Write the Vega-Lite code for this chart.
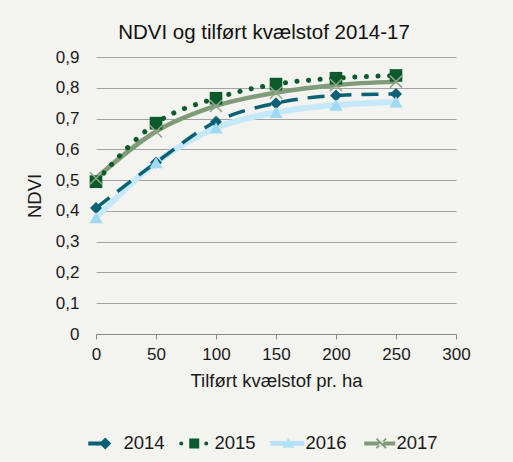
{
  "$schema": "https://vega.github.io/schema/vega-lite/v6.json",
  "autosize": {"type": "none"},
  "width": 360,
  "height": 277,
  "padding": {"left": 96, "top": 57, "right": 57, "bottom": 128},
  "background": "#f3f3ef",
  "config": {
    "font": "Liberation Sans",
    "view": {"stroke": null},
    "axis": {"labelColor": "#1a1a1a", "titleColor": "#1a1a1a", "labelFont": "Liberation Sans", "titleFont": "Liberation Sans", "titleFontWeight": "normal"}
  },
  "title": {"text": "NDVI og tilført kvælstof 2014-17", "fontSize": 20.5, "fontWeight": "normal", "color": "#111111", "anchor": "middle", "dx": -12, "offset": 5},
  "data": {"values": [
    {"year": "2014", "n": 0, "ndvi": 0.409},
    {"year": "2014", "n": 50, "ndvi": 0.557},
    {"year": "2014", "n": 100, "ndvi": 0.69},
    {"year": "2014", "n": 150, "ndvi": 0.75},
    {"year": "2014", "n": 200, "ndvi": 0.775},
    {"year": "2014", "n": 250, "ndvi": 0.78},
    {"year": "2015", "n": 0, "ndvi": 0.495},
    {"year": "2015", "n": 50, "ndvi": 0.685},
    {"year": "2015", "n": 100, "ndvi": 0.766},
    {"year": "2015", "n": 150, "ndvi": 0.812},
    {"year": "2015", "n": 200, "ndvi": 0.831},
    {"year": "2015", "n": 250, "ndvi": 0.84},
    {"year": "2016", "n": 0, "ndvi": 0.378},
    {"year": "2016", "n": 50, "ndvi": 0.557},
    {"year": "2016", "n": 100, "ndvi": 0.67},
    {"year": "2016", "n": 150, "ndvi": 0.72},
    {"year": "2016", "n": 200, "ndvi": 0.744},
    {"year": "2016", "n": 250, "ndvi": 0.754},
    {"year": "2017", "n": 0, "ndvi": 0.506},
    {"year": "2017", "n": 50, "ndvi": 0.658},
    {"year": "2017", "n": 100, "ndvi": 0.741},
    {"year": "2017", "n": 150, "ndvi": 0.784},
    {"year": "2017", "n": 200, "ndvi": 0.809},
    {"year": "2017", "n": 250, "ndvi": 0.82}
  ]},
  "encoding": {
    "x": {"field": "n", "type": "quantitative",
      "scale": {"domain": [0, 300], "nice": false},
      "axis": {"values": [0, 50, 100, 150, 200, 250, 300], "title": "Tilført kvælstof pr. ha", "titleFontSize": 18.5, "labelFontSize": 17, "grid": false, "labelFlush": false, "domainColor": "#8a8a8a", "tickColor": "#8a8a8a", "tickSize": 5, "labelPadding": 7, "titlePadding": 9}},
    "y": {"field": "ndvi", "type": "quantitative",
      "scale": {"domain": [0, 0.9], "nice": false},
      "axis": {"values": [0, 0.1, 0.2, 0.3, 0.4, 0.5, 0.6, 0.7, 0.8, 0.9], "title": "NDVI", "titleFontSize": 18.5, "labelFontSize": 17, "domain": false, "ticks": false, "gridColor": "#a3a3a3", "gridWidth": 1.2, "labelPadding": 17, "titlePadding": 11,
        "labelExpr": "datum.value == 0 ? '0' : replace(format(datum.value, '.1f'), '.', ',')"}}
  },
  "layer": [
    {"transform": [{"filter": "datum.year == '2016'"}], "mark": {"type": "line", "stroke": "#c6e9fa", "strokeWidth": 6, "interpolate": "monotone"}},
    {"transform": [{"filter": "datum.year == '2017'"}], "mark": {"type": "line", "stroke": "#7f9b78", "strokeWidth": 4.5, "interpolate": "monotone"}},
    {"transform": [{"filter": "datum.year == '2014'"}], "mark": {"type": "line", "stroke": "#0b6173", "strokeWidth": 3.5, "strokeDash": [17, 10], "interpolate": "monotone"}},
    {"transform": [{"filter": "datum.year == '2015'"}], "mark": {"type": "line", "stroke": "#0c5a2b", "strokeWidth": 5, "strokeDash": [0.1, 11.5], "strokeCap": "round", "interpolate": "monotone"}},
    {"transform": [{"filter": "datum.year == '2014'"}], "mark": {"type": "point", "shape": "diamond", "filled": true, "fill": "#0b6173", "opacity": 1, "size": 144}},
    {"transform": [{"filter": "datum.year == '2015'"}], "mark": {"type": "point", "shape": "square", "filled": true, "fill": "#0c5a2b", "opacity": 1, "size": 160}},
    {"transform": [{"filter": "datum.year == '2016'"}], "mark": {"type": "point", "shape": "triangle-up", "filled": true, "fill": "#9fd9f4", "opacity": 1, "size": 170}},
    {"transform": [{"filter": "datum.year == '2017'"}], "mark": {"type": "point", "shape": "M-1,-1L1,1M-1,1L1,-1", "filled": false, "stroke": "#8ea889", "strokeWidth": 1.5, "opacity": 1, "size": 144}},
    {"transform": [{"filter": "false"}],
      "mark": {"type": "point", "filled": true, "opacity": 1, "strokeWidth": 0},
      "encoding": {
        "color": {"field": "year", "type": "nominal",
          "scale": {"domain": ["2014", "2015", "2016", "2017"], "range": ["#0b6173", "#0c5a2b", "#b3e1f7", "#7f9b78"]},
          "legend": {"title": null, "orient": "none", "direction": "horizontal", "legendX": 0, "legendY": 377, "labelFontSize": 18.5, "labelColor": "#1a1a1a", "labelOffset": 9, "columnPadding": 13, "symbolSize": 64, "symbolStrokeWidth": 0, "symbolOpacity": 1}},
        "shape": {"field": "year", "type": "nominal",
          "scale": {"domain": ["2014", "2015", "2016", "2017"], "range": [
            "M-4.5,-1.6L-4.5,-1.6Z M4.5,-1.6L4.5,-1.6Z M-4.25,-0.5H-0.5V0.5H-4.25Z M0,-1.5L1.5,0L0,1.5L-1.5,0Z",
            "M-4.5,-1.6L-4.5,-1.6Z M4.5,-1.6L4.5,-1.6Z M-4.25,0A0.5,0.5 0 1,0 -3.25,0A0.5,0.5 0 1,0 -4.25,0Z M2,0A0.5,0.5 0 1,0 3,0A0.5,0.5 0 1,0 2,0Z M-1.75,-1.25H0.75V1.25H-1.75Z",
            "M-4.5,-1.6L-4.5,-1.6Z M4.5,-1.6L4.5,-1.6Z M-4.25,-0.6H4.25V0.6H-4.25Z M0.25,-1.4L1.75,1.1H-1.25Z",
            "M-4.5,-1.6L-4.5,-1.6Z M4.5,-1.6L4.5,-1.6Z M-3.5,-0.5H4.25V0.5H-3.5Z M-0.6,-1.05L-0.3,-1.35L2.1,1.05L1.8,1.35Z M-0.6,1.05L-0.3,1.35L2.1,-1.05L1.8,-1.35Z"
          ]},
          "legend": {"title": null, "orient": "none", "direction": "horizontal", "legendX": 0, "legendY": 377, "labelFontSize": 18.5, "labelColor": "#1a1a1a", "labelOffset": 9, "columnPadding": 13, "symbolSize": 64, "symbolStrokeWidth": 0, "symbolOpacity": 1}}
      }}
  ]
}
